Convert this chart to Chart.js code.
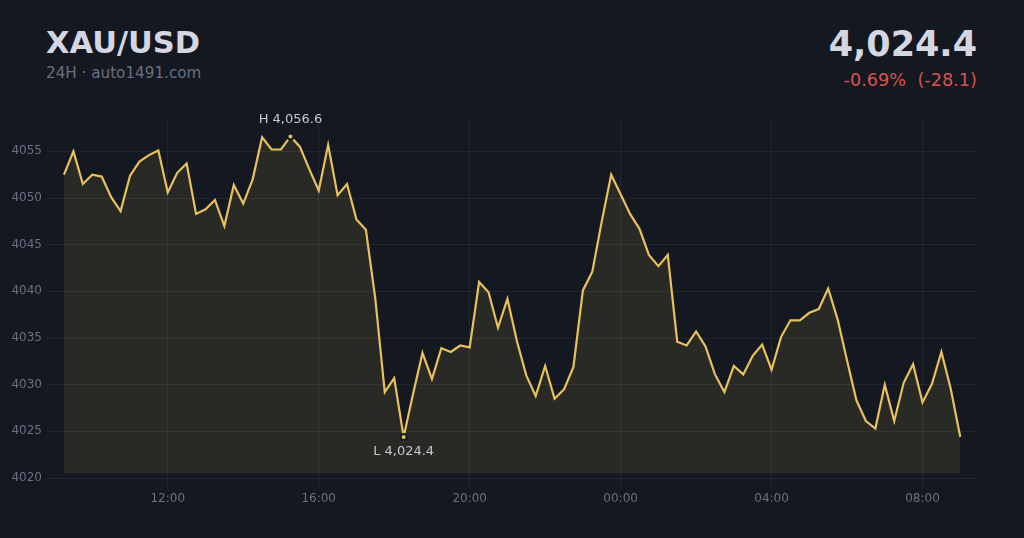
<!DOCTYPE html>
<html>
<head>
<meta charset="utf-8">
<script src="https://cdn.jsdelivr.net/npm/chart.js@4.4.1/dist/chart.umd.min.js"></script>
<style>
  html, body { margin: 0; padding: 0; background: #141821; }
  body { width: 1024px; height: 538px; position: relative; overflow: hidden; font-family: 'DejaVu Sans', sans-serif; }
  #wrap { position: absolute; left: 0; top: 0; width: 1024px; height: 538px; }
  .hd { position: absolute; line-height: 1; white-space: pre; }
  #sym { left: 46px; top: 28px; font-size: 30.5px; font-weight: bold; color: #d4d7e2; }
  #sub { left: 46px; top: 66px; font-size: 15.2px; color: #6b7080; }
  #last { right: 47px; top: 27px; font-size: 35px; font-weight: bold; color: #d4d7e2; }
  #chg { right: 47px; top: 72px; font-size: 17.7px; color: #d9534f; }
</style>
</head>
<body>
<div class="hd" id="sym">XAU/USD</div>
<div class="hd" id="sub">24H · auto1491.com</div>
<div class="hd" id="last">4,024.4</div>
<div class="hd" id="chg">-0.69%  (-28.1)</div>
<div id="wrap"><canvas id="priceChart"></canvas></div>
<script>
// XAU/USD 24h, 15 minute closes from 09:15 to 09:00 next day

const startHour = 9.25;
const stepHour = 0.25;

const prices = [
    4052.5, 4055.0, 4051.5, 4052.5, 4052.3, 4050.1, 4048.6, 4052.4, 4053.9, 4054.6,
    4055.1, 4050.6, 4052.7, 4053.7, 4048.3, 4048.8, 4049.8, 4047.0, 4051.4, 4049.4,
    4052.0, 4056.5, 4055.2, 4055.2, 4056.6, 4055.5, 4053.1, 4050.8, 4055.7, 4050.3,
    4051.5, 4047.7, 4046.6, 4039.2, 4029.2, 4030.7, 4024.4, 4029.0, 4033.4, 4030.6,
    4033.9, 4033.5, 4034.2, 4034.0, 4041.0, 4039.9, 4036.1, 4039.2, 4034.7, 4031.0,
    4028.8, 4032.0, 4028.5, 4029.5, 4031.9, 4040.1, 4042.1, 4047.5, 4052.5, 4050.4,
    4048.3, 4046.7, 4043.9, 4042.7, 4043.9, 4034.6, 4034.2, 4035.7, 4034.1, 4031.1,
    4029.2, 4032.0, 4031.1, 4033.1, 4034.3, 4031.6, 4035.1, 4036.9, 4036.9, 4037.7,
    4038.1, 4040.3, 4037.0, 4032.6, 4028.3, 4026.1, 4025.3, 4030.0, 4026.1, 4030.2,
    4032.2, 4028.1, 4030.1, 4033.5, 4029.5, 4024.4,
];

const xTickHours = [12, 16, 20, 24, 28, 32];
const xTickLabels = ['12:00', '16:00', '20:00', '00:00', '04:00', '08:00'];
const yTicks = [4020, 4025, 4030, 4035, 4040, 4045, 4050, 4055];

const hiIdx = prices.indexOf(Math.max(...prices));
const loIdx = prices.indexOf(Math.min(...prices));

const points = prices.map((p, i) => ({ x: startHour + i * stepHour, y: p }));

const lineColor = '#e9c15c';
const bgColor = '#141821';
const gridColor = 'rgba(255, 255, 255, 0.06)';
const tickColor = '#6b7080';

Chart.defaults.font.family = "'DejaVu Sans', sans-serif";
Chart.defaults.font.size = 12;

const fmt = v => v.toLocaleString('en-US', { minimumFractionDigits: 1, maximumFractionDigits: 1 });

// H / L labels next to the extreme points
const hiLoLabels = {
    id: 'hiLoLabels',
    afterDatasetsDraw(chart) {
        const meta = chart.getDatasetMeta(0);
        const ctx = chart.ctx;
        ctx.save();
        ctx.font = "13px 'DejaVu Sans', sans-serif";
        ctx.fillStyle = '#c5c8d2';
        ctx.textAlign = 'center';
        ctx.textBaseline = 'middle';
        const hi = meta.data[hiIdx];
        const lo = meta.data[loIdx];
        ctx.fillText('H ' + fmt(prices[hiIdx]), hi.x, hi.y - 16.5);
        ctx.fillText('L ' + fmt(prices[loIdx]), lo.x, lo.y + 14.5);
        ctx.restore();
    }
};

const priceConfig = {
    type: 'line',
    data: {
        datasets: [{
            data: points,
            borderColor: lineColor,
            borderWidth: 2.2,
            tension: 0,
            fill: { value: 4020.5 },
            backgroundColor: 'rgba(233, 193, 92, 0.1)',
            pointRadius: ctx => (ctx.dataIndex === hiIdx || ctx.dataIndex === loIdx) ? 3 : 0,
            pointBackgroundColor: lineColor,
            pointBorderColor: bgColor,
            pointBorderWidth: 2,
        }]
    },
    options: {
        responsive: true,
        maintainAspectRatio: false,
        animation: false,
        events: [],
        layout: {
            padding: { top: 120, right: 46, left: 0, bottom: 20 }
        },
        plugins: {
            legend: { display: false },
            tooltip: { enabled: false },
        },
        scales: {
            x: {
                type: 'linear',
                min: 8.8,
                max: 33.47,
                border: { display: false },
                grid: { color: gridColor, tickLength: 10, tickColor: gridColor },
                ticks: {
                    color: tickColor,
                    padding: 4,
                    maxRotation: 0,
                    callback: v => xTickLabels[xTickHours.indexOf(v)],
                },
                afterBuildTicks: scale => {
                    scale.ticks = xTickHours.map(v => ({ value: v }));
                },
                afterFit: scale => { scale.height = 40; },
            },
            y: {
                min: 4020,
                max: 4058.36,
                border: { display: false },
                grid: { color: gridColor, drawTicks: false },
                ticks: {
                    color: tickColor,
                    padding: 5,
                    callback: v => String(v),
                },
                afterBuildTicks: scale => {
                    scale.ticks = yTicks.map(v => ({ value: v }));
                },
                afterFit: scale => { scale.width = 47; },
            }
        }
    },
    plugins: [hiLoLabels]
};

const priceChart = new Chart(
    document.getElementById('priceChart'),
    priceConfig
);
</script>
</body>
</html>
